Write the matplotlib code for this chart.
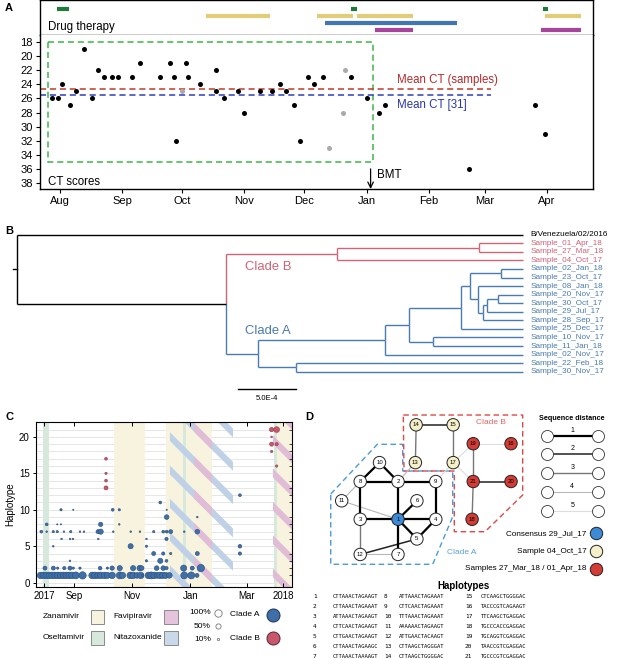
import matplotlib
matplotlib.use('Agg')
import matplotlib.pyplot as plt
from matplotlib.patches import Rectangle, Polygon
from matplotlib.ticker import MultipleLocator
import numpy as np

W, H = 617, 659
plt.rcParams['font.family'] = ['Liberation Sans', 'DejaVu Sans']
plt.rcParams['hatch.linewidth'] = 4.5

# ---------------- data ----------------
# days counted from 1 Aug 2017
month_days = [0, 31, 61, 92, 122, 153, 184, 212, 243]
month_labels = ['Aug', 'Sep', 'Oct', 'Nov', 'Dec', 'Jan', 'Feb', 'Mar', 'Apr']

osel_periods = [(-1.5, 4.5), (145, 148), (241, 243.5)]
zana_periods = [(73, 105), (128, 146), (148, 176), (242, 260)]
nita_periods = [(132, 198)]
favi_periods = [(157, 176), (240, 260)]

ct_day = [-4, -1, 1, 5, 8, 12, 16, 19, 22, 26, 29, 36, 40, 50, 55, 57, 58, 63, 64, 70,
          78, 78, 82, 89, 92, 100, 106, 110, 113, 117, 120, 124, 127, 131, 145, 153,
          159, 162, 204, 237, 242]
ct_val = [26, 26, 24, 27, 25, 19, 26, 22, 23, 23, 23, 23, 21, 23, 21, 23, 32, 21, 23, 24,
          22, 25, 26, 25, 28, 25, 25, 24, 25, 27, 32, 23, 24, 23, 23, 26, 28, 27, 36, 27, 31]
ct_gray_day = [61, 134, 141, 142]
ct_gray_val = [25, 33, 28, 22]
mean_ct_samples = 24.7
mean_ct_ref = 25.5
bmt_day = 155

# phylogeny: tips top to bottom, internal nodes as (depth, children)
tip_names = ['B/Venezuela/02/2016', 'Sample_01_Apr_18', 'Sample_27_Mar_18', 'Sample_04_Oct_17',
             'Sample_02_Jan_18', 'Sample_23_Oct_17', 'Sample_08_Jan_18', 'Sample_20_Nov_17',
             'Sample_30_Oct_17', 'Sample_29_Jul_17', 'Sample_28_Sep_17', 'Sample_25_Dec_17',
             'Sample_10_Nov_17', 'Sample_11_Jan_18', 'Sample_02_Nov_17', 'Sample_22_Feb_18',
             'Sample_30_Nov_17']
tip_clade = ['out', 'B', 'B', 'B'] + ['A'] * 13
tip_depth = 0.004377
tree = (0.0, [0, (0.001808, [
    (0.002766, [(0.003997, [1, 2]), 3]),
    (0.002087, [
        (0.003183, [
            (0.003388, [
                (0.003841, [
                    (0.003919, [(0.004184, [4, 5]),
                                (0.003985, [6, (0.004034, [(0.004063, [(0.004163, [7, 8]), 9]), 10])])]),
                    11]),
                (0.003601, [12, 13])]),
            14]),
        (0.002411, [15, 16])])])])

# haplotype bubbles (day, haplotype, frequency)
cA_day = [-4, -1, 2, 5, 8, 11, 14, 17, 20, 23, 26, 29, 33, 40, 50, 53, 56, 59, 63, 66, 71, 79, 82,
          90, 93, 97, 101, 103, 109, 112, 115, 118, 121, 124, 127, 131, 146.6, 154, 160,
          0.6, 9.4, 13.9, 20.9, 26.8, 30.3, 37.3, 58.4, 66, 71, 79, 93, 100, 102, 117.7, 124.6, 128, 146, 155, 164,
          26.8, 107, 121.5, 128,
          114.6, 124.6, 132.4, 160.3, 205,
          9.3, 90.4, 107, 205,
          18, 27, 30, 56.5, 107, 128,
          -3.2, 2.4, 9.3, 13.5, 20.5, 27.6, 37.3, 41.5, 56.2, 59, 72.2, 90.5, 100.2, 114.6, 124.6, 128.2, 132.4, 146.6, 160.3,
          2.4, 13.5, 17.4, 59, 78.5,
          128.2, 160.3,
          17.4, 30.3, 71.6, 78.5, 128.2,
          121.5,
          205]
cA_hap = [1] * 39 + [2] * 20 + [3] * 4 + [4] * 5 + [5] * 4 + [6] * 6 + [7] * 19 + [8] * 5 + [9] * 2 + [10] * 5 + [11] + [12]
cA_freq = [.8, .8, .8, .8, .8, .8, .8, .8, .8, .8, .8, .8, .9, 1.0, .8, .8, .7, .8, .8, .7, .8, .9, .7,
           .8, .8, .6, .8, .1, .8, .9, .8, .6, .8, .7, .7, .6, .9, .9, .3,
           .3, .3, .1, .2, .3, .1, .1, .25, .1, .35, .5, .5, .6, .4, .4, .4, .2, .7, .3, 1.0,
           .05, .1, .5, .15,
           .3, .2, .1, .3, .2,
           .05, .5, .1, .25,
           .05, .05, .05, .05, .05, .2,
           .15, .05, .1, .1, .05, .1, .05, .05, .3, .5, .05, .05, .05, .1, .15, .15, .3, .05, .4,
           .15, .03, .03, .35, .05,
           .4, .05,
           .1, .03, .15, .1, .03,
           .15,
           .15]
cB_day = [64.6, 64.6, 64.6, 64.6, 238.2, 243.5, 238.2, 238.2, 243.5, 238.2, 243.5]
cB_hap = [13, 14, 15, 17, 21, 21, 20, 19, 19, 18, 16]
cB_freq = [.3, .15, .1, .15, .35, .6, .05, .3, .2, .1, .1]

c_tick_days = [0, 31, 92, 153, 212, 250]
c_tick_labels = ['2017', 'Sep', 'Nov', 'Jan', 'Mar', '2018']

# haplotype network: layout positions, groups and edges (hap, hap, distance)
node_id = list(range(1, 22))
node_x = [0, 0, -1, 1, 0.5, 0.5, 0, -1, 1, -0.49, -1.49, -1, 0.46, 0.48, 1.46, 2.99, 1.46, 1.96, 1.99, 2.99, 1.99]
node_y = [0, 1, 0, 0, -0.52, 0.49, -0.93, 1, 1, 1.5, 0.49, -0.93, 1.5, 2.5, 2.5, 2.0, 1.5, 0, 2.0, 1.0, 1.0]
node_group = ['cons'] + ['none'] * 11 + ['oct', 'oct', 'oct', 'mar', 'oct', 'mar', 'mar', 'mar', 'mar']
edges = [(14, 15, 2), (14, 13, 3), (15, 17, 3), (13, 2, 4), (17, 9, 5), (17, 19, 5), (17, 21, 5),
         (19, 16, 5), (19, 21, 3), (21, 20, 2), (21, 18, 3), (10, 8, 1), (10, 2, 1), (8, 2, 1),
         (2, 9, 1), (8, 3, 1), (2, 1, 1), (9, 4, 1), (3, 1, 1), (1, 4, 1), (1, 6, 1), (1, 5, 1),
         (5, 4, 1), (1, 7, 1), (3, 12, 3), (12, 5, 2), (12, 7, 4), (11, 8, 4), (11, 1, 4)]

haplotypes = ['CTTAAACTAGAAGT', 'CTTAAACTAGAAAT', 'ATTAAACTAGAAGT', 'CTTCAACTAGAAGT',
              'CTTGAACTAGAAGT', 'CTTAAACTAGAAGC', 'CTTAAACTAAAAGT', 'ATTAAACTAGAAAT',
              'CTTCAACTAGAAAT', 'TTTAAACTAGAAAT', 'AAAAAACTAGAAGT', 'ATTGAACTACAAGT',
              'CTTAAGCTAGGGAT', 'CTTAAGCTGGGGAC', 'CTCAAGCTGGGGAC', 'TACCCGTCAGAAGT',
              'TTCAAGCTGAGGAC', 'TGCCCACCGAGGAC', 'TGCAGGTCGAGGAC', 'TAACCGTCGAGGAC',
              'TGCCCGTCGAGGAC']

# ---------------- colours ----------------
drug_dark = {'osel': '#1f7a3c', 'zana': '#e1cc78', 'nita': '#3f76b3', 'favi': '#a8449c'}
drug_light = {'osel': '#d6e9dc', 'zana': '#f8f3de', 'nita': '#c9d8ea', 'favi': '#e6c3dc'}
hatch_col = {'nita': '#bfd1e7', 'favi': '#e0bcd6'}
blue_a = '#4a7bb0'
red_b = '#cf6378'

fig = plt.figure(figsize=(W / 100, H / 100), dpi=100)


def px_axes(x0, y0, x1, y1):
    return fig.add_axes([x0 / W, 1 - y1 / H, (x1 - x0) / W, (y1 - y0) / H])


# ================= Panel A =================
axd = px_axes(40, 0.5, 593, 35)
axd.set_xlim(-10, 266)
axd.set_ylim(3.71, -1.29)
for row, (key, periods) in enumerate([('osel', osel_periods), ('zana', zana_periods),
                                       ('nita', nita_periods), ('favi', favi_periods)]):
    for a, b in periods:
        axd.hlines(row, a, b, color=drug_dark[key], lw=3.0)
axd.set_xticks([])
axd.set_yticks([])
for s in axd.spines.values():
    s.set_linewidth(1.0)
axd.text(0.0145, 0.23, 'Drug therapy', transform=axd.transAxes, fontsize=8.3, va='center')

axa = px_axes(40, 35, 593, 189)
axa.set_xlim(-10, 266)
axa.set_ylim(38.85, 17.0)
axa.spines['top'].set_visible(False)
for s in ['left', 'right', 'bottom']:
    axa.spines[s].set_linewidth(1.0)
axa.add_patch(Rectangle((-5.8, 18), 162.1, 17, fill=False, ls=(0, (4, 2.5)), ec='#3fb548', lw=1.1))
axa.hlines(mean_ct_samples, -10, 215, color='#c0392b', ls=(0, (4, 2.5)), lw=1.1)
axa.hlines(mean_ct_ref, -10, 215, color='#2b3fbf', ls=(0, (4, 2.5)), lw=1.1)
axa.text(168, 23.4, 'Mean CT (samples)', color='#b22a2a', fontsize=8.3, va='center')
axa.text(168, 26.9, 'Mean CT [31]', color='#2a35a8', fontsize=8.3, va='center')
axa.scatter(ct_gray_day, ct_gray_val, s=13, color='#aaaaaa', zorder=3, lw=0)
axa.scatter(ct_day, ct_val, s=13, color='black', zorder=4, lw=0)
axa.annotate('', xy=(bmt_day, 38.85), xytext=(bmt_day, 36.0),
             arrowprops=dict(arrowstyle='->', color='black', lw=0.9, shrinkA=0, shrinkB=0))
axa.text(bmt_day + 3, 36.9, 'BMT', fontsize=8.3, va='center')
axa.text(0.0145, 0.045, 'CT scores', transform=axa.transAxes, fontsize=8.3, va='center')
axa.set_yticks(range(18, 39, 2))
axa.set_xticks(month_days)
axa.set_xticklabels(month_labels)
axa.tick_params(labelsize=8, length=3, width=0.8, pad=2)

# ================= Panel B =================
axb = px_axes(0, 225, 617, 410)
axb.set_xlim(-1.4706e-4, 5.19e-3)
axb.set_ylim(20.47, -1.13)
axb.axis('off')
clade_col = {'out': 'black', 'A': blue_a, 'B': red_b}


def draw_node(node):
    if isinstance(node, int):
        return tip_depth, node, tip_clade[node]
    depth, kids = node
    res = [draw_node(k) for k in kids]
    y = (res[0][1] + res[-1][1]) / 2
    for kx, ky, kc in res:
        col = clade_col[kc]
        axb.plot([depth, depth], [y, ky], color=col, lw=1.0, solid_capstyle='butt')
        axb.plot([depth, kx], [ky, ky], color=col, lw=1.0, solid_capstyle='butt')
    cl = set(r[2] for r in res)
    return depth, y, (cl.pop() if len(cl) == 1 else 'out')


_, root_y, _ = draw_node(tree)
axb.plot([-3.5e-5, 0], [root_y, root_y], color='black', lw=1.0)
for i, name in enumerate(tip_names):
    axb.text(tip_depth + 6.7e-5, i, name, fontsize=5.9, va='center', color=clade_col[tip_clade[i]])
axb.text(0.001968, 3.74, 'Clade B', color=red_b, fontsize=9.4, va='center')
axb.text(0.001968, 11.2, 'Clade A', color=blue_a, fontsize=9.4, va='center')
axb.plot([0.0019135, 0.0019135 + 5e-4], [17.96, 17.96], color='black', lw=1.0)
axb.text(0.0019135 + 2.5e-4, 19.1, '5.0E-4', fontsize=5.5, ha='center', va='center')

# ================= Panel C =================
axc = px_axes(36, 422.3, 292.3, 586.7)
axc.set_xlim(-8.8, 259.9)
axc.set_ylim(-0.55, 22)
for yv in range(0, 22):
    axc.axhline(yv, color='#e2e2e2', lw=0.6, zorder=0)
for a, b in zana_periods:
    axc.axvspan(a, b, color=drug_light['zana'], lw=0, zorder=0.5)
for a, b in osel_periods:
    axc.axvspan(a, b, color=drug_light['osel'], lw=0, zorder=0.6)
for a, b in nita_periods:
    axc.axvspan(a, b, facecolor='none', edgecolor=hatch_col['nita'], hatch='\\', lw=0, zorder=0.7)
for a, b in favi_periods:
    axc.axvspan(a, b, facecolor='none', edgecolor=hatch_col['favi'], hatch='\\', lw=0, zorder=0.8)
S100 = 28
axc.scatter(cA_day, cA_hap, s=np.array(cA_freq) * S100, c='#3f6fa8', edgecolors='#2a4d7a',
            linewidths=0.4, zorder=3)
axc.scatter(cB_day, cB_hap, s=np.array(cB_freq) * S100, c='#c9566b', edgecolors='#8e3a4a',
            linewidths=0.4, zorder=3)
axc.set_xticks(c_tick_days)
axc.set_xticklabels(c_tick_labels)
axc.set_yticks([0, 5, 10, 15, 20])
axc.yaxis.set_minor_locator(MultipleLocator(1))
axc.tick_params(axis='x', direction='in', top=True, length=3, width=0.7, labelsize=7, pad=3)
axc.tick_params(axis='y', which='major', direction='out', length=2.5, width=0.7, labelsize=7, pad=2)
axc.tick_params(axis='y', which='minor', left=False, right=True, direction='in', length=2, width=0.5)
axc.set_ylabel('Haplotype', fontsize=7, labelpad=3)
for s in axc.spines.values():
    s.set_linewidth(0.8)

# legend for panel C
axl = px_axes(0, 595, 310, 650)
axl.set_xlim(0, 310)
axl.set_ylim(650, 595)
axl.axis('off')
for label, key, x_t, x_b, y in [('Zanamivir', 'zana', 42.5, 90.7, 616.7),
                                ('Oseltamivir', 'osel', 42.5, 90.7, 637.7),
                                ('Favipiravir', 'favi', 113, 164, 616.7),
                                ('Nitazoxanide', 'nita', 113, 164, 637.7)]:
    axl.text(x_t, y, label, fontsize=6, va='center')
    axl.add_patch(Rectangle((x_b, y - 7), 13.6, 14, fc=drug_light[key], ec='#8a8a8a', lw=0.7))
for frac, y in [(1.0, 612.7), (0.5, 626), (0.1, 639.3)]:
    axl.text(211, y, f'{int(frac * 100)}%', fontsize=6, ha='right', va='center')
    axl.scatter([217.7], [y], s=frac * S100, facecolors='white', edgecolors='#777777', linewidths=0.6)
axl.text(230, 615, 'Clade A', fontsize=6, va='center')
axl.text(230, 638.3, 'Clade B', fontsize=6, va='center')
axl.scatter([272.7], [615], s=88, c='#3f6fa8', edgecolors='#1f3550', linewidths=0.7)
axl.scatter([272.7], [638.3], s=88, c='#c9566b', edgecolors='#5a2430', linewidths=0.7)

# ================= Panel D =================
axn = px_axes(300, 410, 617, 580)
axn.set_xlim(-2.593, 5.794)
axn.set_ylim(-1.606, 2.892)
axn.axis('off')
dist_style = {1: ('#000000', 1.6), 2: ('#222222', 1.1), 3: ('#777777', 1.0),
              4: ('#b8b8b8', 0.8), 5: ('#dddddd', 0.8)}
group_col = {'cons': '#3d8bd6', 'oct': '#f6f0c8', 'mar': '#d43b35', 'none': 'white'}
pos = {n: (x, y) for n, x, y in zip(node_id, node_x, node_y)}

axn.add_patch(Polygon([(-1.78, 0.669), (-0.548, 1.984), (0.124, 1.984), (0.124, 1.278),
                       (1.447, 1.278), (1.447, 0.069), (0.918, -1.19), (-1.78, -1.19)],
                      closed=True, fill=False, ec='#4a9bd6', ls=(0, (4, 2.5)), lw=1.0))
axn.add_patch(Polygon([(0.14, 2.759), (3.299, 2.759), (3.299, 0.643), (2.302, -0.328),
                       (1.489, -0.328), (1.489, 1.278), (0.159, 1.278)],
                      closed=True, fill=False, ec='#e04848', ls=(0, (4, 2.5)), lw=1.0))
axn.text(2.46, 2.566, 'Clade B', color='#e06464', fontsize=6, ha='center', va='center')
axn.text(1.69, -0.873, 'Clade A', color='#5aa0d8', fontsize=6, ha='center', va='center')

for a, b, d in sorted(edges, key=lambda e: -e[2]):
    col, lw = dist_style[d]
    axn.plot([pos[a][0], pos[b][0]], [pos[a][1], pos[b][1]], color=col, lw=lw, zorder=2)
axn.scatter(node_x, node_y, s=80, c=[group_col[g] for g in node_group], edgecolors='#222222',
            linewidths=0.7, zorder=3)
for n, x, y in zip(node_id, node_x, node_y):
    axn.text(x, y, str(n), fontsize=4.3, ha='center', va='center', zorder=4)

# sequence distance legend
axn.text(4.61, 2.675, 'Sequence distance', fontsize=5.2, fontweight='bold', ha='center', va='center')
for d, y in zip([1, 2, 3, 4, 5], [2.204, 1.735, 1.233, 0.73, 0.22]):
    col, lw = dist_style[d]
    axn.plot([3.944, 5.28], [y, y], color=col, lw=lw, zorder=2)
    axn.scatter([3.944, 5.28], [y, y], s=75, c='white', edgecolors='#333333', linewidths=0.6, zorder=3)
    axn.text(4.61, y + 0.14, str(d), fontsize=5, ha='center', va='center')
for label, g, y in [('Consensus 29_Jul_17', 'cons', -0.37),
                    ('Sample 04_Oct_17', 'oct', -0.84),
                    ('Samples 27_Mar_18 / 01_Apr_18', 'mar', -1.307)]:
    axn.text(4.99, y, label, fontsize=5.9, ha='right', va='center')
    axn.scatter([5.24], [y], s=80, c=group_col[g], edgecolors='#222222', linewidths=0.7, zorder=3)

# haplotype table
fig.text(463.3 / W, 1 - 585.7 / H, 'Haplotypes', fontsize=7, fontweight='bold', ha='center', va='center')
col_num_x = [313, 384, 465]
col_seq_x = [333, 399, 481]
for i, seq in enumerate(haplotypes):
    c, r = divmod(i, 7)
    y = 1 - (596.7 + 10 * r) / H
    fig.text(col_num_x[c] / W, y, str(i + 1), fontsize=4.4, family='DejaVu Sans Mono', va='center')
    fig.text(col_seq_x[c] / W, y, seq, fontsize=3.95, family='DejaVu Sans Mono', va='center')

# panel letters
for letter, x, y in [('A', 5, 8), ('B', 5, 231), ('C', 5, 417), ('D', 305, 417)]:
    fig.text(x / W, 1 - y / H, letter, fontsize=8, fontweight='bold', va='center')

fig.savefig('out.png', dpi=100)
